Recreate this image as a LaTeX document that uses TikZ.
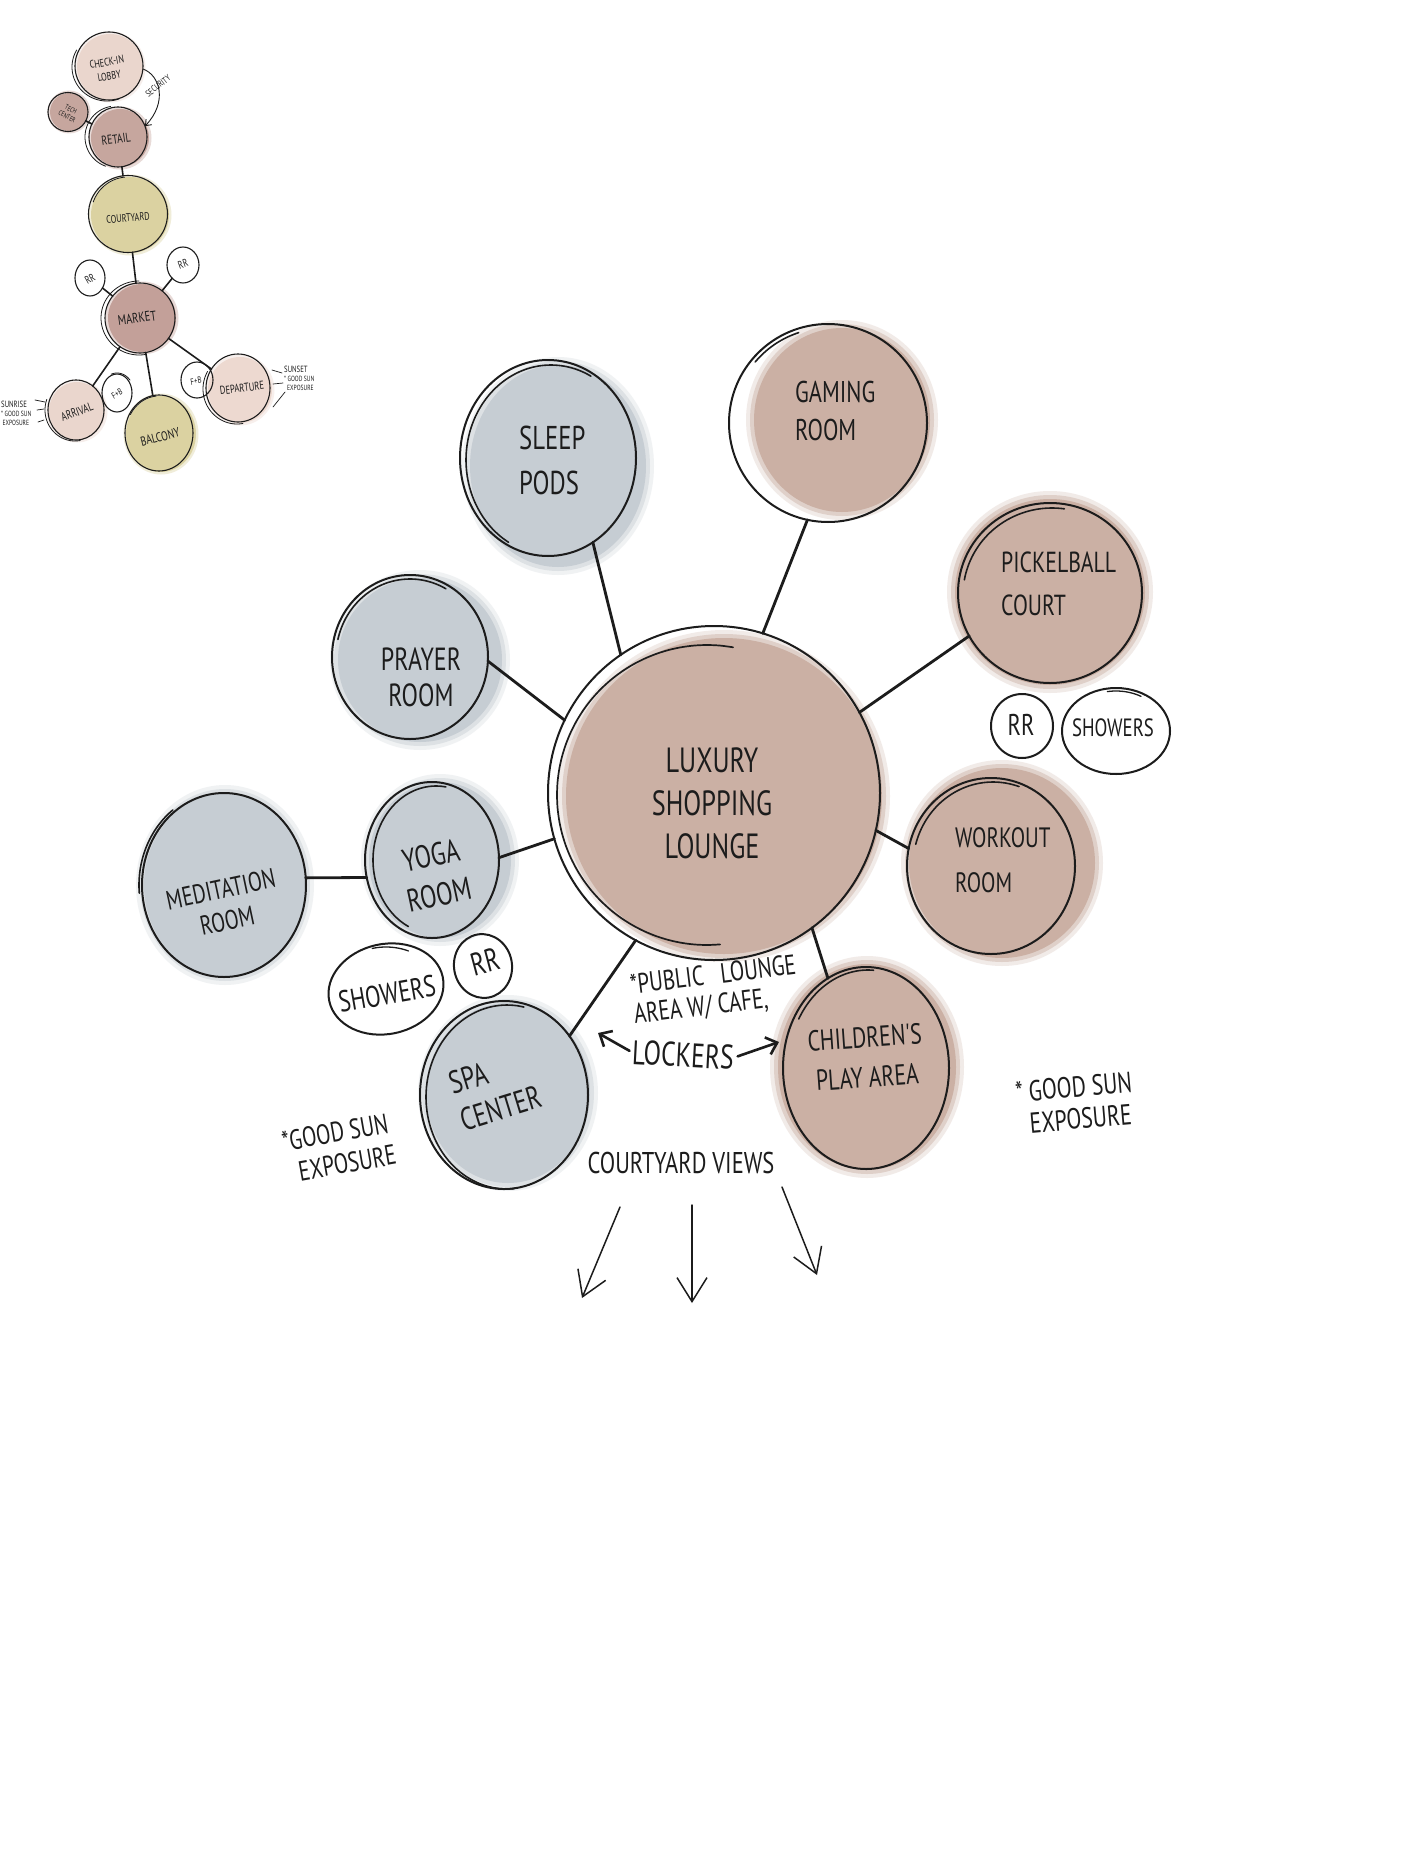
\documentclass[tikz,border=0pt]{standalone}
\usepackage{fontspec}
\newfontfamily\hand{PT Sans}[FakeStretch=0.75]
\usetikzlibrary{shapes.geometric,arrows.meta}
\definecolor{ink}{HTML}{1C1C1C}
\definecolor{blueF}{HTML}{C6CDD3}
\definecolor{mauveF}{HTML}{CBB0A4}
\definecolor{pinkL}{HTML}{EAD6CD}
\definecolor{pinkM}{HTML}{EDD9D0}
\definecolor{mauveS}{HTML}{C6A69E}
\definecolor{mauveM}{HTML}{C3A099}
\definecolor{khaki}{HTML}{DBD2A1}
\newcommand{\fsz}[2]{\fontsize{#1}{#2}\selectfont}
\newcommand{\softfill}[5]{%
  \fill[#5,opacity=0.25] (#1,#2) ellipse ({#3+8} and {#4+8});
  \fill[#5,opacity=0.45] (#1,#2) ellipse ({#3+4} and {#4+4});
  \fill[#5] (#1,#2) ellipse ({#3} and {#4});}
\newcommand{\softfillS}[5]{%
  \fill[#5,opacity=0.4] (#1,#2) ellipse ({#3+2.5} and {#4+2.5});
  \fill[#5] (#1,#2) ellipse ({#3} and {#4});}
\newcommand{\skarc}[7]{\draw[ink,line width=#7,line cap=round] plot[domain=#5:#6,samples=40,smooth] ({#1+#3*cos(\x)},{#2-#4*sin(\x)});}
\begin{document}
\begin{tikzpicture}[x=1pt,y=-1pt,
  bub/.style={ellipse,draw=ink,line width=2pt,inner sep=0pt,outer sep=0pt},
  sbub/.style={ellipse,draw=ink,line width=1.1pt,inner sep=0pt,outer sep=0pt},
  conn/.style={draw=ink,line width=2.8pt,line cap=round},
  sconn/.style={draw=ink,line width=1.6pt,line cap=round},
  lab/.style={text=ink,inner sep=0pt},
  viewarr/.style={draw=ink,line width=1.5pt,line cap=round,-{Straight Barb[length=24pt,width=30pt]}},
  lockarr/.style={draw=ink,line width=2.6pt,line cap=round,-{Straight Barb[length=10pt,width=18pt]}},
  tick/.style={draw=ink,line width=0.7pt,line cap=round}]
\useasboundingbox (0,0) rectangle (1405,1873);
\fill[white] (0,0) rectangle (1405,1873);

%================ MAIN DIAGRAM: fills =================
\softfill{724}{796}{158}{158}{mauveF}
\softfill{558}{466}{88}{101}{blueF}
\softfill{842}{420}{88}{92}{mauveF}
\softfill{1050}{592}{95}{93}{mauveF}
\softfill{1002}{863}{93}{95}{mauveF}
\softfill{867}{1067}{89}{103}{mauveF}
\softfill{508}{1093}{82}{90}{blueF}
\softfill{420}{660}{82}{82}{blueF}
\softfill{440}{860}{71}{78}{blueF}
\softfill{225}{885}{81}{92}{blueF}

%================ MAIN DIAGRAM: bubbles =================
\node[bub,minimum width=332pt,minimum height=334pt] (lounge) at (714,793) {};
\node[bub,minimum width=176pt,minimum height=196pt] (sleep) at (548,458) {};
\node[bub,minimum width=198pt,minimum height=198pt] (gaming) at (828,423) {};
\node[bub,minimum width=184pt,minimum height=180pt] (pickle) at (1050,593) {};
\node[bub,minimum width=168pt,minimum height=176pt] (workout) at (991,866) {};
\node[bub,minimum width=166pt,minimum height=202pt] (child) at (866,1068) {};
\node[bub,minimum width=168pt,minimum height=188pt] (spa) at (504,1095) {};
\node[bub,minimum width=156pt,minimum height=164pt] (prayer) at (410,657) {};
\node[bub,minimum width=134pt,minimum height=156pt] (yoga) at (432,860) {};
\node[bub,minimum width=164pt,minimum height=184pt] (med) at (224,885) {};
\node[bub,minimum width=62pt,minimum height=64pt] (rrR) at (1022,726) {};
\node[bub,minimum width=108pt,minimum height=86pt] (showR) at (1116,731) {};
\node[bub,minimum width=58pt,minimum height=64pt,rotate=10] (rrL) at (483,966) {};
\node[bub,minimum width=116pt,minimum height=90pt,rotate=12] (showL) at (386,989) {};

% sketch strokes
\skarc{707}{795}{150}{150}{80}{275}{1.7pt}
\skarc{551}{460}{85}{95}{62}{240}{1.6pt}
\skarc{828}{423}{95}{95}{108}{140}{1.6pt}
\skarc{1052}{595}{89}{87}{82}{170}{1.6pt}
\skarc{993}{866}{80}{84}{71}{165}{1.6pt}
\skarc{868}{1068}{80}{98}{86}{150}{1.6pt}
\skarc{507}{1097}{81}{92}{78}{275}{1.6pt}
\skarc{410}{657}{74}{78}{61}{167}{1.6pt}
\skarc{436}{860}{63}{74}{81}{244}{1.6pt}
\skarc{224}{885}{85}{94}{127}{185}{1.6pt}
\skarc{1116}{731}{50}{40}{60}{100}{1.3pt}
\skarc{386}{989}{53}{42}{65}{105}{1.3pt}

%================ MAIN DIAGRAM: connectors =================
\draw[conn] (sleep.-62) -- (lounge.124);
\draw[conn] (gaming.258) -- (lounge.73);
\draw[conn] (pickle.208) -- (lounge.29);
\draw[conn] (workout.168) -- (lounge.-13);
\draw[conn] (child.113) -- (lounge.-54);
\draw[conn] (spa.42) -- (lounge.242);
\draw[conn] (prayer.-3) -- (lounge.154);
\draw[conn] (yoga.2) -- (lounge.196);
\draw[conn] (med.5) -- (yoga.195);

%================ MAIN DIAGRAM: labels =================
\node[lab,font={\hand\fsz{35}{43}},align=center] (lLounge) at (712,803) {LUXURY\\SHOPPING\\LOUNGE};
\node[lab,font={\hand\fsz{33}{45}},align=left,anchor=west] (lSleep) at (519,460) {SLEEP\\PODS};
\node[lab,font={\hand\fsz{30}{38}},align=left,anchor=west] (lGaming) at (795,411) {GAMING\\ROOM};
\node[lab,font={\hand\fsz{29}{43}},align=left,anchor=west] (lPickle) at (1001,584) {PICKELBALL\\COURT};
\node[lab,font={\hand\fsz{28}{45}},align=left,anchor=west] (lWorkout) at (955,860) {WORKOUT\\ROOM};
\node[lab,font={\hand\fsz{29}{40}},align=center,rotate=4] (lChild) at (866,1057) {CHILDREN'S\\PLAY AREA};
\node[lab,font={\hand\fsz{32}{38}},align=left,rotate=17] (lSpa) at (495,1090) {SPA\\CENTER};
\node[lab,font={\hand\fsz{32}{36}},align=center] (lPrayer) at (421,677) {PRAYER\\ROOM};
\node[lab,font={\hand\fsz{32}{40}},align=center,rotate=12] (lYoga) at (435,875) {YOGA\\ROOM};
\node[lab,font={\hand\fsz{27}{32}},align=center,rotate=12] (lMed) at (224,905) {MEDITATION\\ROOM};
\node[lab,font={\hand\fsz{30}{30}}] (lRRR) at (1021,725) {RR};
\node[lab,font={\hand\fsz{25}{25}}] (lShowR) at (1113,728) {SHOWERS};
\node[lab,font={\hand\fsz{32}{32}},rotate=15] (lRRL) at (485,962) {RR};
\node[lab,font={\hand\fsz{30}{30}},rotate=10] (lShowL) at (387,994) {SHOWERS};
\node[lab,font={\hand\fsz{28}{30}},align=left,rotate=7] (lPublic) at (715,991) {*PUBLIC\ \ \ LOUNGE\\AREA W/ CAFE,};
\node[lab,font={\hand\fsz{34}{34}},rotate=-3] (lLockers) at (683,1055) {LOCKERS};
\node[lab,font={\hand\fsz{30}{30}}] (lViews) at (681,1163) {COURTYARD VIEWS};
\node[lab,font={\hand\fsz{28}{32}},align=left,rotate=10] (lSunL) at (339,1148) {*GOOD SUN\\\ \ EXPOSURE};
\node[lab,font={\hand\fsz{29}{32}},align=left,rotate=5] (lSunR) at (1075,1103) {* GOOD SUN\\\ \ EXPOSURE};

% lockers arrows
\coordinate (lockL) at (598,1033);
\coordinate (lockR) at (779,1042);
\draw[lockarr,shorten <=3pt] (lLockers.west) -- (lockL);
\draw[lockarr,shorten <=4pt] (lLockers.east) -- (lockR);

% courtyard view arrows
\coordinate (v1a) at (620,1207); \coordinate (v1b) at (582,1298);
\coordinate (v2a) at (692,1205); \coordinate (v2b) at (692,1303);
\coordinate (v3a) at (782,1187); \coordinate (v3b) at (817,1275);
\draw[viewarr] (v1a) -- (v1b);
\draw[viewarr] (v2a) -- (v2b);
\draw[viewarr] (v3a) -- (v3b);

%================ SMALL DIAGRAM (top left) =================
\softfillS{110}{67}{33}{33}{pinkL}
\softfillS{69}{112}{19}{19}{mauveS}
\softfillS{120}{138}{29}{29}{mauveS}
\softfillS{130}{215}{39}{38}{khaki}
\softfillS{142}{318}{34}{34}{mauveM}
\softfillS{77}{411}{28}{29}{pinkL}
\softfillS{161}{434}{35}{38}{khaki}
\softfillS{240}{390}{32}{33}{pinkM}

\node[sbub,minimum width=68pt,minimum height=68pt] (checkin) at (109,66) {};
\node[sbub,minimum width=40pt,minimum height=39pt] (tech) at (68,112) {};
\node[sbub,minimum width=58pt,minimum height=60pt] (retail) at (118,137) {};
\node[sbub,minimum width=79pt,minimum height=77pt] (court) at (128,214) {};
\node[sbub,minimum width=70pt,minimum height=70pt] (market) at (140,318) {};
\node[sbub,minimum width=30pt,minimum height=36pt] (srrL) at (90,278) {};
\node[sbub,minimum width=32pt,minimum height=36pt] (srrR) at (183,265) {};
\node[sbub,minimum width=56pt,minimum height=60pt] (arrival) at (76,410) {};
\node[sbub,minimum width=30pt,minimum height=38pt] (fbL) at (117,393) {};
\node[sbub,minimum width=68pt,minimum height=76pt] (balcony) at (159,433) {};
\node[sbub,minimum width=32pt,minimum height=36pt] (fbR) at (197,380) {};
\node[sbub,minimum width=64pt,minimum height=68pt] (depart) at (238,388) {};

\skarc{107}{67}{35}{34}{150}{290}{0.8pt}
\skarc{116}{137}{31}{31}{100}{250}{0.8pt}
\skarc{128}{215}{37}{38}{95}{160}{0.8pt}
\skarc{139}{318}{38}{37}{90}{280}{0.8pt}
\skarc{75}{410}{30}{31}{160}{280}{0.8pt}
\skarc{159}{433}{33}{37}{95}{150}{0.8pt}
\skarc{237}{389}{34}{35}{150}{280}{0.8pt}
\skarc{117}{393}{17}{20}{40}{110}{0.8pt}

\draw[sconn] (tech) -- (retail);
\draw[sconn] (retail) -- (court);
\draw[sconn] (court) -- (market);
\draw[sconn] (srrL) -- (market);
\draw[sconn] (srrR) -- (market);
\draw[sconn] (market) -- (arrival);
\draw[sconn] (market) -- (balcony);
\draw[sconn] (market) -- (depart);
\draw[ink,line width=0.9pt,-{Straight Barb[length=5pt,width=8pt]}] (checkin.-5) .. controls (160,75) and (168,102) .. (retail.22);

\node[lab,font={\hand\fsz{11}{14}},align=center,rotate=10] (sCheck) at (108,69) {CHECK-IN\\LOBBY};
\node[lab,font={\hand\fsz{7}{8}},align=center,rotate=-28] (sTech) at (69,113) {TECH\\CENTER};
\node[lab,font={\hand\fsz{13}{13}},rotate=8] (sRetail) at (116,139) {RETAIL};
\node[lab,font={\hand\fsz{9}{9}},rotate=38] (sSec) at (158,86) {SECURITY};
\node[lab,font={\hand\fsz{11}{11}},rotate=5] (sCourt) at (128,218) {COURTYARD};
\node[lab,font={\hand\fsz{14}{14}},rotate=8] (sMarket) at (137,318) {MARKET};
\node[lab,font={\hand\fsz{11}{11}},rotate=30] (sRRL) at (90,279) {RR};
\node[lab,font={\hand\fsz{11}{11}},rotate=20] (sRRR) at (183,264) {RR};
\node[lab,font={\hand\fsz{12}{12}},rotate=20] (sArr) at (77,412) {ARRIVAL};
\node[lab,font={\hand\fsz{9}{9}},rotate=30] (sFBL) at (117,394) {F+B};
\node[lab,font={\hand\fsz{13}{13}},rotate=14] (sBalc) at (160,437) {BALCONY};
\node[lab,font={\hand\fsz{9}{9}},rotate=10] (sFBR) at (196,381) {F+B};
\node[lab,font={\hand\fsz{11.5}{11.5}},rotate=7] (sDep) at (242,388) {DEPARTURE};
\node[lab,font={\hand\fsz{7.5}{9}},align=left,anchor=west] (sSunrise) at (1,413) {{\fsz{9}{9}SUNRISE}\\* GOOD SUN\\\ EXPOSURE};
\node[lab,font={\hand\fsz{7.5}{9}},align=left,anchor=west] (sSunset) at (284,378) {{\fsz{9}{9}SUNSET}\\* GOOD SUN\\\ \ EXPOSURE};
\draw[tick] (35,400) -- (45,402);
\draw[tick] (37,410) -- (44,409);
\draw[tick] (38,422) -- (44,420);
\draw[tick] (272,370) -- (282,373);
\draw[tick] (273,384) -- (283,383);
\draw[tick] (273,407) -- (285,392);
\end{tikzpicture}
\end{document}
